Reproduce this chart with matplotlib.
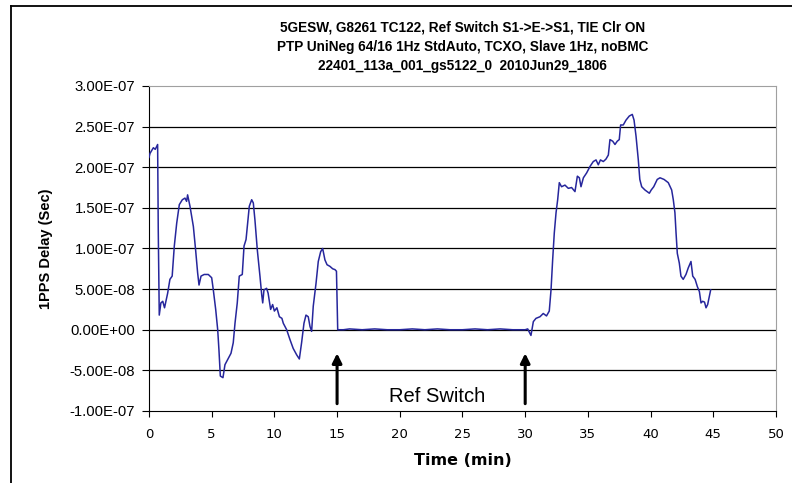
import matplotlib.pyplot as plt
from matplotlib.lines import Line2D
from matplotlib.ticker import FuncFormatter

# Datos (tiempo en min, retardo en ns)
t_min = [0.0, 0.08, 0.35, 0.5, 0.69, 0.74, 0.82, 0.95, 1.1, 1.24, 1.49, 1.67, 1.85,
         2.02, 2.21, 2.42, 2.66, 2.87, 3.0, 3.08, 3.27, 3.54, 3.72, 3.88, 3.99, 4.15,
         4.4, 4.73, 5.0, 5.13, 5.32, 5.48, 5.58, 5.69, 5.9, 6.06, 6.27, 6.54, 6.72,
         6.86, 7.04, 7.2, 7.44, 7.58, 7.74, 7.84, 8.0, 8.19, 8.32, 8.45, 8.64, 8.85,
         8.99, 9.07, 9.17, 9.38, 9.5, 9.7, 9.86, 10.0, 10.2, 10.4, 10.6, 10.71, 10.98,
         11.24, 11.5, 11.78, 11.99, 12.17, 12.36, 12.52, 12.7, 12.84, 12.97, 13.1,
         13.32, 13.5, 13.69, 13.85, 14.03, 14.2, 14.43, 14.65, 14.83, 14.95, 15.05,
         15.5, 16, 17, 18, 19, 20, 21, 22, 23, 24, 25, 26, 27, 28, 29, 30, 30.2,
         30.46, 30.65, 30.86, 31.18, 31.44, 31.7, 31.92, 32.06, 32.19, 32.32, 32.46,
         32.59, 32.72, 32.9, 33.17, 33.44, 33.7, 33.97, 34.16, 34.32, 34.45, 34.64,
         34.9, 35.17, 35.43, 35.65, 35.83, 36.0, 36.23, 36.44, 36.63, 36.76, 36.98,
         37.16, 37.34, 37.5, 37.61, 37.82, 38.04, 38.3, 38.54, 38.68, 38.84, 39.02,
         39.14, 39.29, 39.55, 39.9, 40.05, 40.25, 40.53, 40.75, 41.07, 41.41, 41.68,
         41.81, 41.94, 42.03, 42.13, 42.29, 42.42, 42.6, 42.82, 43.0, 43.22, 43.36,
         43.55, 43.73, 43.89, 44.02, 44.15, 44.3, 44.42, 44.55, 44.68, 44.79]
delay_ns = [212, 217, 224, 222, 228, 123, 18, 33, 35, 27, 45, 62, 66,
            103, 131, 154, 160, 162, 158, 166, 152, 127, 98, 70, 55, 66,
            68, 68, 64, 49, 25, 0, -25, -57, -59, -43, -37, -29, -16,
            8, 33, 66, 68, 103, 111, 127, 152, 160, 156, 135, 98, 66,
            43, 33, 49, 51, 45, 25, 31, 23, 27, 16, 14, 8, 0,
            -12, -23, -31, -36, -16, 8, 18, 16, 4, -2, 29,
            57, 84, 96, 100, 86, 80, 78, 75, 74, 72, 0,
            0, 1, 0, 1, 0, 0, 1, 0, 1, 0, 0, 1, 0, 1, 0, 0, 1,
            -7, 10, 14, 16, 20, 17, 23, 49, 86, 119, 144,
            160, 181, 176, 178, 174, 175, 170, 189, 187, 176, 187,
            193, 201, 207, 209, 203, 209, 207, 210, 215, 234, 232,
            228, 232, 234, 252, 252, 258, 263, 265, 258, 238, 209,
            185, 176, 172, 168, 172, 176, 185, 187, 185, 181, 172,
            160, 144, 119, 94, 82, 66, 62, 68, 76, 84, 66,
            62, 53, 47, 33, 35, 34, 27, 31, 41, 49]

delay_s = [v * 1e-9 for v in delay_ns]

titulo = ("5GESW, G8261 TC122, Ref Switch S1->E->S1, TIE Clr ON\n"
          "PTP UniNeg 64/16 1Hz StdAuto, TCXO, Slave 1Hz, noBMC\n"
          "22401_113a_001_gs5122_0  2010Jun29_1806")
switch_t = [15, 30]
y_ticks = [-1e-7, -5e-8, 0, 5e-8, 1e-7, 1.5e-7, 2e-7, 2.5e-7, 3e-7]

fig = plt.figure(figsize=(7.92, 4.83), dpi=100)
ax = fig.add_axes([0.1881, 0.1491, 0.7917, 0.6729])

# marco exterior (solo arriba e izquierda)
fig.add_artist(Line2D([11 / 792, 11 / 792], [0, 1 - 6 / 483], color='black', lw=1.3))
fig.add_artist(Line2D([11 / 792, 1], [1 - 6 / 483, 1 - 6 / 483], color='black', lw=1.3))

for y in y_ticks[1:-1]:
    ax.axhline(y, color='black', lw=0.9, zorder=1)

ax.plot(t_min, delay_s, color='#26269c', lw=1.1, zorder=3)

# flechas de cambio de referencia
for t in switch_t:
    ax.annotate('', xy=(t, -2.9e-8), xytext=(t, -9.1e-8),
                arrowprops=dict(arrowstyle='-|>', lw=2.2, color='black',
                                mutation_scale=14, shrinkA=0, shrinkB=0))
ax.text(23, -8.2e-8, 'Ref Switch', ha='center', va='center',
        family='Liberation Sans', fontsize=14.5)

ax.set_xlim(0, 50)
ax.set_ylim(-1e-7, 3e-7)
ax.set_xticks(range(0, 51, 5))
ax.set_yticks(y_ticks)
ax.yaxis.set_major_formatter(FuncFormatter(lambda v, p: '{:.2E}'.format(v)))

ax.tick_params(axis='x', direction='out', length=4, pad=8, labelsize=9.5)
ax.tick_params(axis='y', direction='out', length=5, pad=5, labelsize=10.7)
for lab in ax.get_yticklabels():
    lab.set_family('Liberation Sans')

ax.spines['top'].set_color('#a0a0a0')
ax.spines['right'].set_color('#a0a0a0')

ax.set_xlabel('Time (min)', fontsize=11.5, fontweight='bold', labelpad=9)
ax.set_ylabel('1PPS Delay (Sec)', family='Liberation Sans', fontsize=10.5,
              fontweight='bold', labelpad=12)
ax.set_title(titulo, family='Liberation Sans', fontsize=9.8, fontweight='bold',
             linespacing=1.5, pad=11.5)

fig.savefig('out.png', dpi=100)
